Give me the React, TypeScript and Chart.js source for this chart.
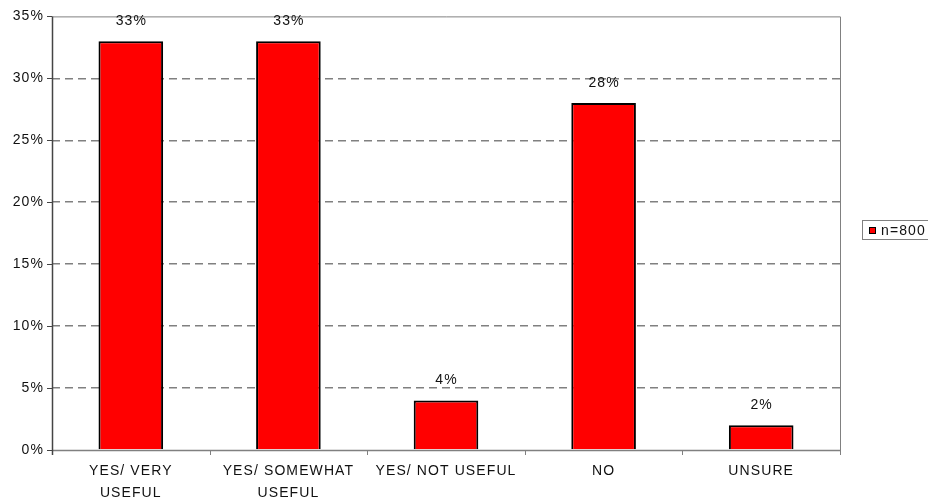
import React, { useEffect, useRef } from "react";
import { Chart, registerables } from "chart.js";

Chart.register(...registerables);

const categories: (string | string[])[] = [
  ["YES/ VERY", "USEFUL"],
  ["YES/ SOMEWHAT", "USEFUL"],
  "YES/ NOT USEFUL",
  "NO",
  "UNSURE",
];
const values = [33, 33, 4, 28, 2];
const seriesName = "n=800";
const yTicks = [0, 5, 10, 15, 20, 25, 30, 35];

const FONT = "'Liberation Sans', Arial, sans-serif";

const spacing = {
  id: "spacing",
  beforeInit(chart: any) {
    chart.ctx.letterSpacing = "1.1px";
  },
  beforeLayout(chart: any) {
    chart.ctx.letterSpacing = "1.1px";
  },
  beforeDraw(chart: any) {
    chart.ctx.letterSpacing = "1.1px";
  },
};

const decor = {
  id: "decor",
  afterDraw(chart: any) {
    const { ctx, chartArea: a } = chart;
    const y = chart.scales.y;
    ctx.save();
    ctx.strokeStyle = "#808080";
    ctx.lineWidth = 1;
    ctx.setLineDash([]);
    ctx.beginPath();
    ctx.moveTo(a.left, a.top + 0.5);
    ctx.lineTo(a.right + 0.5, a.top + 0.5);
    ctx.lineTo(a.right + 0.5, a.bottom);
    ctx.stroke();
    ctx.lineWidth = 1.5;
    ctx.beginPath();
    ctx.moveTo(a.left, a.bottom + 0.5);
    ctx.lineTo(a.right + 0.5, a.bottom + 0.5);
    ctx.stroke();
    ctx.lineWidth = 1;
    const n = categories.length;
    for (let i = 0; i <= n; i++) {
      const px = Math.round(a.left + ((a.right - a.left) * i) / n) + 0.5;
      ctx.beginPath();
      ctx.moveTo(px, a.bottom);
      ctx.lineTo(px, a.bottom + 5);
      ctx.stroke();
    }
    ctx.strokeStyle = "#444";
    ctx.lineWidth = 1.5;
    ctx.beginPath();
    ctx.moveTo(a.left + 0.5, a.top);
    ctx.lineTo(a.left + 0.5, a.bottom + 5);
    ctx.stroke();
    ctx.lineWidth = 1;
    yTicks.forEach((t) => {
      const py = Math.round(y.getPixelForValue(t)) + 0.5;
      ctx.beginPath();
      ctx.moveTo(a.left - 5, py);
      ctx.lineTo(a.left, py);
      ctx.stroke();
    });
    ctx.letterSpacing = "1.1px";
    ctx.fillStyle = "#111";
    ctx.font = `14px ${FONT}`;
    ctx.textAlign = "center";
    ctx.textBaseline = "middle";
    const meta = chart.getDatasetMeta(0);
    meta.data.forEach((bar: any, i: number) => {
      ctx.fillText(values[i] + "%", bar.x + 0.5, bar.y - 20);
    });
    // legend
    const lx = 862, ly = 220, lw = 80, lh = 19;
    ctx.fillStyle = "#fff";
    ctx.fillRect(lx, ly, lw, lh);
    ctx.strokeStyle = "#808080";
    ctx.strokeRect(lx + 0.5, ly + 0.5, lw, lh);
    ctx.fillStyle = "#FF0000";
    ctx.fillRect(869, 227, 7, 7);
    ctx.strokeStyle = "#000";
    ctx.strokeRect(869.5, 227.5, 6, 6);
    ctx.fillStyle = "#111";
    ctx.textAlign = "left";
    ctx.font = `14px ${FONT}`;
    ctx.fillText(seriesName, 881, 231);
    ctx.restore();
  },
};

export default function App() {
  const ref = useRef<HTMLCanvasElement | null>(null);
  useEffect(() => {
    document.body.style.margin = "0";
    const chart = new Chart(ref.current as HTMLCanvasElement, {
      type: "bar",
      data: {
        labels: categories,
        datasets: [
          {
            label: seriesName,
            data: values,
            backgroundColor: "#FF0000",
            borderColor: "#000000",
            borderWidth: 2,
            categoryPercentage: 1,
            barPercentage: 0.41,
          },
        ],
      },
      options: {
        animation: false,
        responsive: false,
        layout: { padding: { top: 16, right: 88, left: 0, bottom: 0 } },
        plugins: { legend: { display: false }, tooltip: { enabled: false } },
        scales: {
          x: {
            grid: { display: false, drawTicks: false },
            border: { display: false },
            ticks: {
              color: "#111",
              font: { family: FONT, size: 14, lineHeight: 1.57 },
              padding: 10,
              maxRotation: 0,
              autoSkip: false,
            },
            afterFit(s: any) {
              s.height = 52;
            },
          },
          y: {
            min: 0,
            max: 35,
            afterBuildTicks(s: any) {
              s.ticks = yTicks.map((v) => ({ value: v }));
            },
            grid: {
              drawTicks: false,
              color: (c: any) =>
                c.tick && (c.tick.value === 0 || c.tick.value === 35) ? "rgba(0,0,0,0)" : "#808080",
              lineWidth: 1.5,
            },
            border: { display: false, dash: [8, 5] },
            ticks: {
              color: "#111",
              font: { family: FONT, size: 14 },
              padding: 8,
              callback: (v: any) => v + "%",
            },
            afterFit(s: any) {
              s.width = 52;
            },
          },
        },
      },
      plugins: [spacing, decor],
    } as any);
    return () => chart.destroy();
  }, []);
  return (
    <div style={{ width: 928, height: 502 }}>
      <canvas ref={ref} width={928} height={502} style={{ display: "block" }} />
    </div>
  );
}
